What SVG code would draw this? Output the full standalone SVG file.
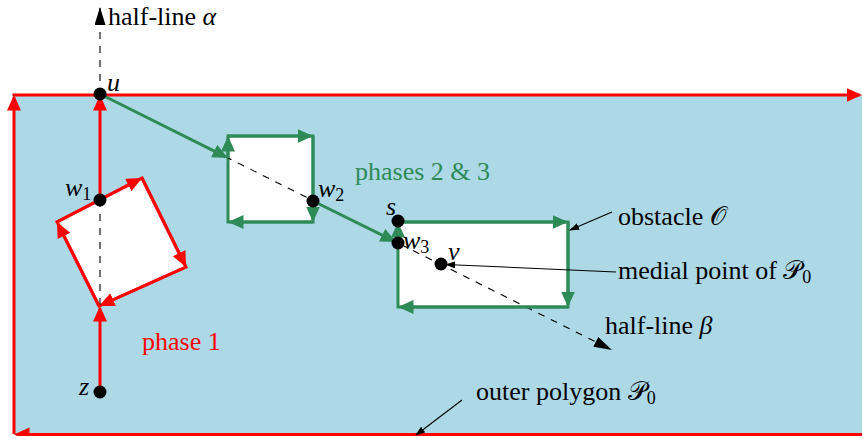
<svg xmlns="http://www.w3.org/2000/svg" width="862" height="436" viewBox="0 0 862 436">
<style>
text{font-family:"Liberation Serif","DejaVu Serif",serif;font-size:26px;fill:#000}
.it{font-style:italic}
.sub{font-size:18px;font-style:normal}
.red{stroke:#ff0000;stroke-width:3;fill:none}
.grn{stroke:#2e8b57;stroke-width:3;fill:none}
.dash{stroke:#000;stroke-width:1.1;stroke-dasharray:7,7;fill:none}
.thin{stroke:#000;stroke-width:1.1;fill:none}
.dot{fill:#000}
</style>
<defs>
<marker id="ra" markerUnits="userSpaceOnUse" markerWidth="18" markerHeight="16" refX="13" refY="7" orient="auto"><path d="M0,0 L15.5,7 L0,14 Z" fill="#ff0000"/></marker>
<marker id="ga" markerUnits="userSpaceOnUse" markerWidth="18" markerHeight="16" refX="13" refY="7" orient="auto"><path d="M0,0 L15.5,7 L0,14 Z" fill="#2e8b57"/></marker>
<marker id="ba" markerUnits="userSpaceOnUse" markerWidth="20" markerHeight="13" refX="17" refY="5.5" orient="auto"><path d="M0,0 L18,5.5 L0,11 Z" fill="#000"/></marker>
<marker id="sa" markerUnits="userSpaceOnUse" markerWidth="12" markerHeight="8" refX="9" refY="3.5" orient="auto"><path d="M0,0 L10,3.5 L0,7 Z" fill="#000"/></marker>
</defs>

<g id="outer-polygon">
<rect x="14" y="95" width="850" height="340" fill="#add8e6"/>
<path class="red" d="M14,434 L14,97.5" marker-end="url(#ra)"/>
<path class="red" d="M12.5,95 L859.5,95" marker-end="url(#ra)"/>
<path class="red" d="M864,434.5 L16.5,434.5" marker-end="url(#ra)"/>
</g>

<g id="obstacle-square">
<polygon points="99,306 57,222 142,178 186,267" fill="#fff" stroke="#ff0000" stroke-width="3"/>
</g>
<g id="obstacle-1">
<rect x="228" y="136" width="85" height="86" fill="#fff" stroke="#2e8b57" stroke-width="3"/>
</g>
<g id="obstacle-2">
<rect x="398" y="222" width="170" height="85" fill="#fff" stroke="#2e8b57" stroke-width="3"/>
</g>

<g id="connectors">
<path class="dash" d="M100,305 L100,8" marker-end="url(#ba)"/>
<path class="dash" d="M100,94 L611,349.5" marker-end="url(#ba)"/>

<path class="red" d="M100,392 L100,308.5" marker-end="url(#ra)"/>
<path class="red" d="M99,306 L58.1,224.2" marker-end="url(#ra)"/>
<path class="red" d="M57,222 L139.8,179.1" marker-end="url(#ra)"/>
<path class="red" d="M142,178 L184.9,264.8" marker-end="url(#ra)"/>
<path class="red" d="M186,267 L101.3,305" marker-end="url(#ra)"/>
<path class="red" d="M100,200 L100,97.5" marker-end="url(#ra)"/>

<path class="grn" d="M100,94 L225.8,156.9" marker-end="url(#ga)"/>
<path class="grn" d="M228,158 L228,138.5" marker-end="url(#ga)"/>
<path class="grn" d="M228,136 L310.5,136" marker-end="url(#ga)"/>
<path class="grn" d="M313,136 L313,219.5" marker-end="url(#ga)"/>
<path class="grn" d="M313,222 L230.5,222" marker-end="url(#ga)"/>
<path class="grn" d="M313,201 L393.8,240.9" marker-end="url(#ga)"/>
<path class="grn" d="M398,243 L398,224.5" marker-end="url(#ga)"/>
<path class="grn" d="M398,222 L565.5,222" marker-end="url(#ga)"/>
<path class="grn" d="M568,222 L568,304.5" marker-end="url(#ga)"/>
<path class="grn" d="M568,307 L400.5,307" marker-end="url(#ga)"/>

<path class="thin" d="M612,212 L570,230" marker-end="url(#sa)"/>
<path class="thin" d="M616,272 L446,264.5" marker-end="url(#sa)"/>
<path class="thin" d="M462,400 L416,435" marker-end="url(#sa)"/>
</g>

<g id="points">
<circle class="dot" cx="100" cy="94" r="6.5"/>
<circle class="dot" cx="100" cy="200" r="6.5"/>
<circle class="dot" cx="313" cy="201" r="6.5"/>
<circle class="dot" cx="398" cy="221" r="6.5"/>
<circle class="dot" cx="398" cy="243" r="6.5"/>
<circle class="dot" cx="441" cy="264" r="6.5"/>
<circle class="dot" cx="100" cy="392" r="6.5"/>
</g>

<g id="labels">
<text x="108" y="25">half-line <tspan class="it">α</tspan></text>
<text class="it" x="107" y="91">u</text>
<text class="it" x="65" y="196">w<tspan class="sub" dy="4">1</tspan></text>
<text class="it" x="318" y="197">w<tspan class="sub" dy="4">2</tspan></text>
<text class="it" x="386" y="215">s</text>
<text class="it" x="403" y="249">w<tspan class="sub" dy="4">3</tspan></text>
<text class="it" x="448" y="260">v</text>
<text class="it" x="79" y="395">z</text>
<text x="355" y="180" style="fill:#2e8b57">phases 2 &amp; 3</text>
<text x="142" y="350" style="fill:#ff0000">phase 1</text>
<text x="618" y="225">obstacle 𝒪</text>
<text x="618" y="279">medial point of 𝒫<tspan class="sub" dy="4">0</tspan></text>
<text x="605" y="334">half-line <tspan class="it">β</tspan></text>
<text x="476" y="400">outer polygon 𝒫<tspan class="sub" dy="4">0</tspan></text>
</g>
</svg>
